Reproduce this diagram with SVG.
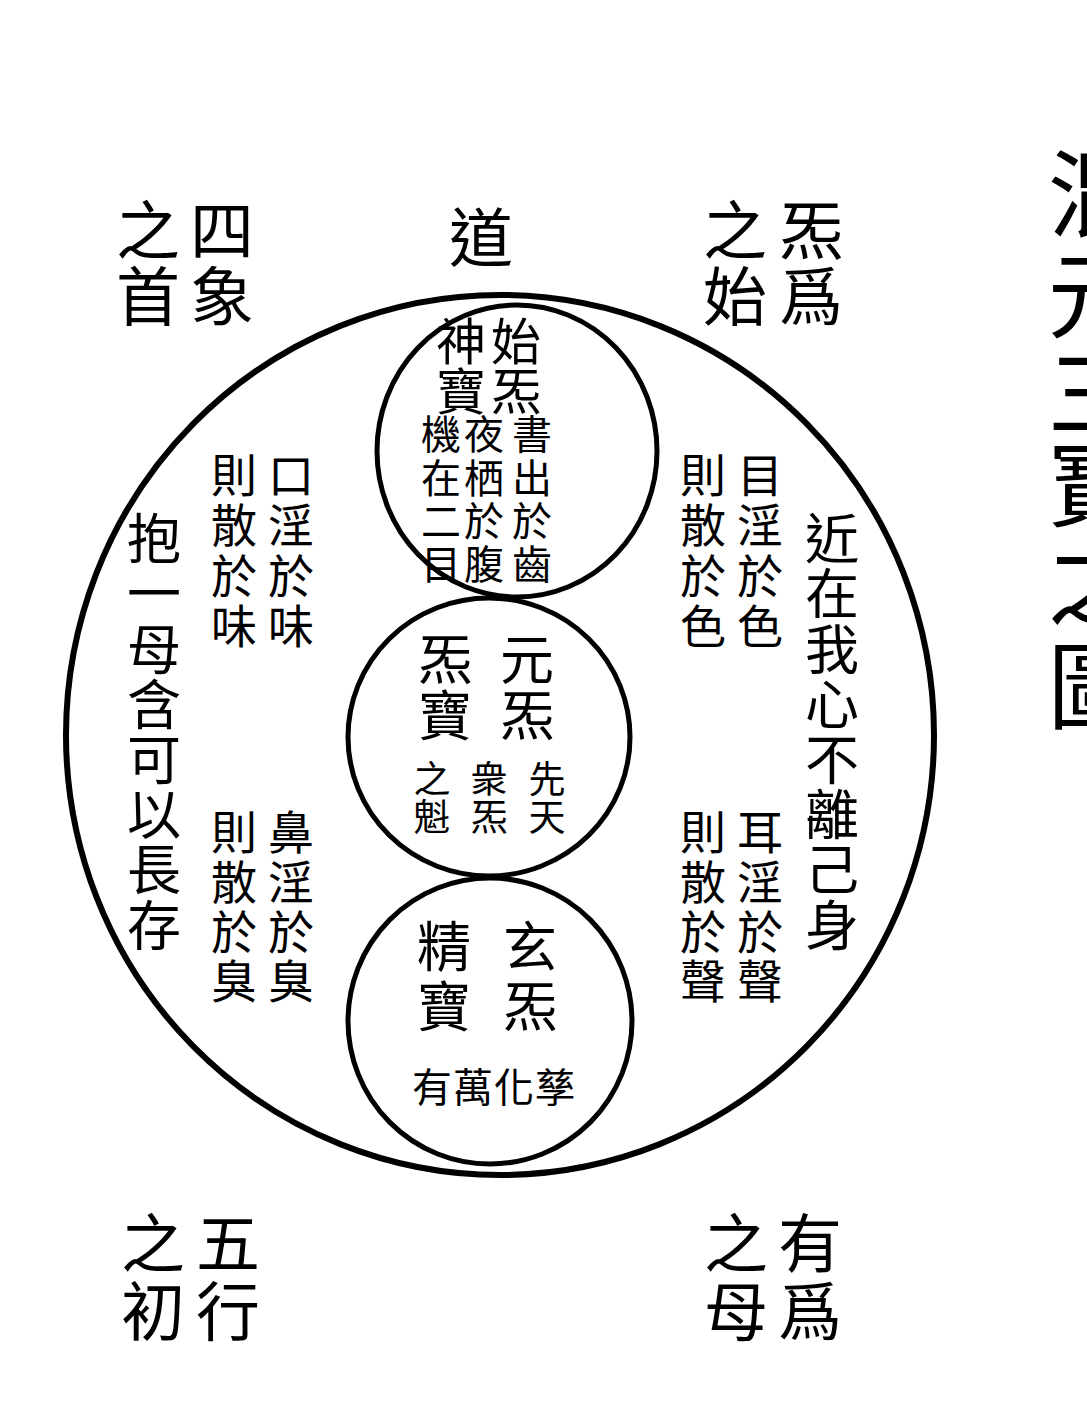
<svg xmlns="http://www.w3.org/2000/svg" width="1087" height="1424" viewBox="0 0 1087 1424">
<style>
text{font-family:"Noto Sans CJK TC","Noto Sans CJK SC",sans-serif;fill:#000;text-anchor:middle;dominant-baseline:central}
.t{font-size:95px}
.l{font-size:64px}
.m{font-size:50px}
.b{font-size:54px}
.s{font-size:40px}
.x{font-size:37px}
.c{font-size:46px}
.ring{fill:none;stroke:#000}
</style>
<rect width="1087" height="1424" fill="#fff"/>
<g id="title">
<text class="t" x="1095" y="188">混</text>
<text class="t" x="1095" y="289">元</text>
<text class="t" x="1095" y="387">三</text>
<text class="t" x="1095" y="478">寶</text>
<text class="t" x="1095" y="577">之</text>
<text class="t" x="1095" y="680">圖</text>
</g>
<g id="labels-top">
<text class="l" x="222" y="226">四</text><text class="l" x="222" y="292">象</text>
<text class="l" x="148" y="226">之</text><text class="l" x="148" y="292">首</text>
<text class="l" x="481" y="233">道</text>
<text class="l" x="811" y="226">炁</text><text class="l" x="811" y="292">爲</text>
<text class="l" x="735" y="226">之</text><text class="l" x="735" y="292">始</text>
</g>
<g id="labels-bottom">
<text class="l" x="228" y="1239">五</text><text class="l" x="228" y="1307">行</text>
<text class="l" x="153" y="1239">之</text><text class="l" x="153" y="1307">初</text>
<text class="l" x="810" y="1239">有</text><text class="l" x="810" y="1307">爲</text>
<text class="l" x="736" y="1239">之</text><text class="l" x="736" y="1307">母</text>
</g>
<g id="outer">
<ellipse class="ring" cx="500" cy="735" rx="434" ry="440" stroke-width="6"/>
<g id="left-main">
<text class="b" x="154" y="535">抱</text><text class="b" x="154" y="590">一</text>
<text class="b" x="154" y="646">母</text><text class="b" x="154" y="701">含</text>
<text class="b" x="154" y="756">可</text><text class="b" x="154" y="811">以</text>
<text class="b" x="154" y="866">長</text><text class="b" x="154" y="922">存</text>
</g>
<g id="right-main">
<text class="b" x="832" y="535">近</text><text class="b" x="832" y="590">在</text>
<text class="b" x="832" y="646">我</text><text class="b" x="832" y="701">心</text>
<text class="b" x="832" y="756">不</text><text class="b" x="832" y="811">離</text>
<text class="b" x="832" y="866">己</text><text class="b" x="832" y="922">身</text>
</g>
<g id="mouth">
<text class="c" x="291" y="472">口</text><text class="c" x="291" y="522">淫</text><text class="c" x="291" y="573">於</text><text class="c" x="291" y="623">味</text>
<text class="c" x="234" y="472">則</text><text class="c" x="234" y="522">散</text><text class="c" x="234" y="573">於</text><text class="c" x="234" y="623">味</text>
</g>
<g id="nose">
<text class="c" x="291" y="829">鼻</text><text class="c" x="291" y="879">淫</text><text class="c" x="291" y="929">於</text><text class="c" x="291" y="978">臭</text>
<text class="c" x="234" y="829">則</text><text class="c" x="234" y="879">散</text><text class="c" x="234" y="929">於</text><text class="c" x="234" y="978">臭</text>
</g>
<g id="eye">
<text class="c" x="760" y="472">目</text><text class="c" x="760" y="522">淫</text><text class="c" x="760" y="573">於</text><text class="c" x="760" y="623">色</text>
<text class="c" x="703" y="472">則</text><text class="c" x="703" y="522">散</text><text class="c" x="703" y="573">於</text><text class="c" x="703" y="623">色</text>
</g>
<g id="ear">
<text class="c" x="760" y="829">耳</text><text class="c" x="760" y="879">淫</text><text class="c" x="760" y="929">於</text><text class="c" x="760" y="978">聲</text>
<text class="c" x="703" y="829">則</text><text class="c" x="703" y="879">散</text><text class="c" x="703" y="929">於</text><text class="c" x="703" y="978">聲</text>
</g>
</g>
<g id="shen">
<ellipse class="ring" cx="517" cy="451" rx="140" ry="146" stroke-width="5"/>
<text class="m" x="516" y="338">始</text><text class="m" x="516" y="388">炁</text>
<text class="m" x="461" y="338">神</text><text class="m" x="461" y="388">寶</text>
<text class="s" x="532" y="432">書</text><text class="s" x="532" y="476">出</text><text class="s" x="532" y="519">於</text><text class="s" x="532" y="562">齒</text>
<text class="s" x="484" y="432">夜</text><text class="s" x="484" y="476">栖</text><text class="s" x="484" y="519">於</text><text class="s" x="484" y="562">腹</text>
<text class="s" x="441" y="432">機</text><text class="s" x="441" y="476">在</text><text class="s" x="441" y="519">二</text><text class="s" x="441" y="562">目</text>
</g>
<g id="qi">
<ellipse class="ring" cx="489" cy="737" rx="141" ry="139" stroke-width="5"/>
<text class="b" x="527" y="656">元</text><text class="b" x="527" y="712">炁</text>
<text class="b" x="445" y="656">炁</text><text class="b" x="445" y="712">寶</text>
<text class="x" x="547" y="777">先</text><text class="x" x="547" y="815">天</text>
<text class="x" x="489" y="777">衆</text><text class="x" x="489" y="815">炁</text>
<text class="x" x="432" y="777">之</text><text class="x" x="432" y="815">魁</text>
</g>
<g id="jing">
<ellipse class="ring" cx="490" cy="1021" rx="142" ry="143" stroke-width="5"/>
<text class="b" x="530" y="943">玄</text><text class="b" x="530" y="1003">炁</text>
<text class="b" x="444" y="943">精</text><text class="b" x="444" y="1003">寶</text>
<text class="s" x="432" y="1085">有</text><text class="s" x="473" y="1085">萬</text><text class="s" x="514" y="1085">化</text><text class="s" x="555" y="1085">孳</text>
</g>
</svg>
